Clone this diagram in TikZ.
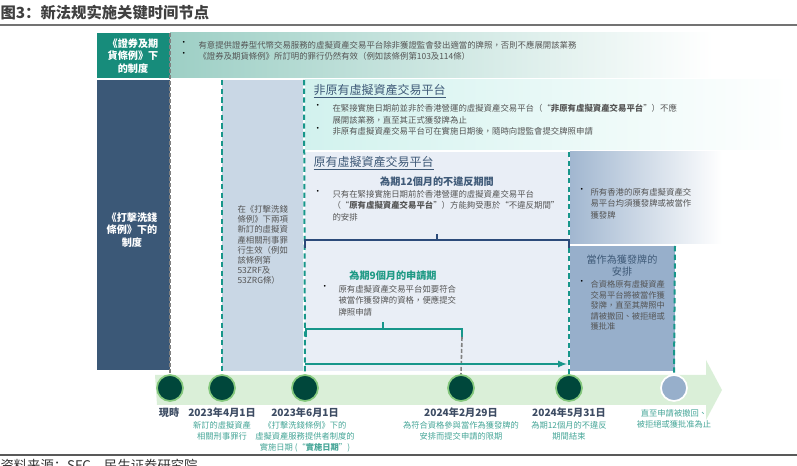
\documentclass[tikz,border=0pt]{standalone}
\usepackage{fontspec}
\newfontfamily\tcfont{Noto Sans CJK TC}
\newfontfamily\scfont{Noto Sans CJK SC}
\usetikzlibrary{arrows.meta}
\definecolor{tealbox}{HTML}{178C7B}
\definecolor{tealhell}{HTML}{9DCFC5}
\definecolor{navybox}{HTML}{3B5877}
\definecolor{blaugrau}{HTML}{C9D7E5}
\definecolor{nichtorig}{HTML}{D2F2EE}
\definecolor{origbg}{HTML}{E9EEF6}
\definecolor{rechtsbox}{HTML}{97AFCB}
\definecolor{txtgrau}{HTML}{555555}
\definecolor{kopfblau}{HTML}{3F5A78}
\definecolor{datblau}{HTML}{3D4C63}
\definecolor{notiztuerkis}{HTML}{45A597}
\definecolor{fristtuerkis}{HTML}{1F9A85}
\definecolor{bandgruen}{HTML}{DAEFD8}
\definecolor{kreisdunkel}{HTML}{00473B}
\definecolor{kreisring}{HTML}{86C97E}
\definecolor{strichtuerkis}{HTML}{17968A}
\definecolor{klammerblau}{HTML}{2B4A7A}
\tikzset{
  txt/.style={font=\tcfont\fontsize{6.3}{8.4}\selectfont, text=txtgrau,
    inner sep=0pt, anchor=north west, align=left},
  punkt/.style={txt, text=black},
  kopf/.style={font=\tcfont\fontsize{9}{11}\selectfont, text=kopfblau,
    inner sep=0pt, anchor=north west},
  frist/.style={font=\tcfont\bfseries\fontsize{7.6}{9}\selectfont, inner sep=0pt},
  boxtxt/.style={font=\tcfont\bfseries\fontsize{7.6}{9.6}\selectfont, text=white,
    inner sep=0pt, align=center},
  datum/.style={font=\tcfont\bfseries\fontsize{7.6}{9}\selectfont, text=datblau,
    inner sep=0pt},
  notiz/.style={font=\tcfont\fontsize{6.2}{8.25}\selectfont, text=notiztuerkis,
    inner sep=0pt, align=center, anchor=north},
  termin/.style={circle, fill=kreisdunkel, draw=kreisring, line width=1.3pt,
    minimum size=19.5pt, inner sep=0pt},
  grenze/.style={strichtuerkis, line width=1.5pt, dash pattern=on 4pt off 2.5pt},
  graustrich/.style={gray, line width=1.2pt, dash pattern=on 3pt off 1.5pt}
}
\begin{document}
\begin{tikzpicture}[x=0.75pt,y=-0.75pt,>=latex,thick]
\useasboundingbox (0,0) rectangle (797,466);
% Titel
\node[anchor=west, inner sep=0pt, text=black!75,
      font=\scfont\bfseries\fontsize{11.5}{12}\selectfont] (titel) at (0,13)
      {图3：新法规实施关键时间节点};
\draw[black!55, line width=1.5pt] (0,25) -- (797,25);
% Hintergrundflaechen
\fill[tealbox] (97,33) rectangle (170,78);
\shade[left color=tealhell, right color=white] (170,33) rectangle (713,78);
\fill[navybox] (97,80) rectangle (170,370);
\fill[blaugrau] (222,80) rectangle (303,371);
\shade[left color=nichtorig, right color=white] (305,80) rectangle (797,150);
\fill[origbg] (305,152) rectangle (569,371);
\shade[left color=rechtsbox!90, right color=white] (570,152) rectangle (722,244);
\fill[rechtsbox] (570,246) rectangle (675,371);
% Zeitstrahl
\fill[bandgruen] (155,375) -- (706,375) -- (706,360) -- (722,390)
     -- (706,420) -- (706,405) -- (157,405) -- cycle;
% Termine
\node[termin] (t0) at (170,388) {};
\node[termin] (t1) at (222,388) {};
\node[termin] (t2) at (305,388) {};
\node[termin] (t3) at (461,388) {};
\node[termin] (t4) at (569,388) {};
\node[termin, fill=rechtsbox, draw=white] (t5) at (674,388) {};
% Trennlinien
\draw[graustrich] (170,33) -- (t0.north);
\draw[grenze] (222,80) -- (t1.north);
\draw[grenze] (304,80) -- (t2.north);
\draw[grenze] (569,152) -- (t4.north);
\draw[grenze] (675,246) -- (t5.north);
% Klammer 12 Monate
\coordinate (k12a) at (305,248);
\coordinate (k12b) at (569,248);
\draw[klammerblau, line width=1.3pt] (k12a) |- (437,240) -| (k12b);
\draw[klammerblau, line width=1.3pt] (437,240) -- (437,234);
% Klammer 9 Monate
\coordinate (k9a) at (306,337);
\coordinate (k9b) at (462,337);
\draw[strichtuerkis, line width=1.3pt] (k9a) |- (383,329) -| (k9b);
\draw[strichtuerkis, line width=1.3pt] (383,329) -- (383,322);
\draw[graustrich] (k9b) -- (t3.north);
% Pfeil bis Ende der Frist
\coordinate (pa) at (305,364);
\coordinate (pb) at (567,364);
\draw[->, strichtuerkis, line width=1.3pt] (pa) -- (pb);
% Beschriftungen der Kaesten
\node[boxtxt] (sfo) at (133,56) {《證券及期\\貨條例》下\\的制度};
\node[punkt] (sfob) at (179,41) {•\\•};
\node[txt] (sfotext) at (198,41)
  {有意提供證券型代幣交易服務的虛擬資產交易平台除非獲證監會發出適當的牌照，否則不應展開該業務\\《證券及期貨條例》所訂明的罪行仍然有效（例如該條例第103及114條）};
\node[boxtxt] (amlo) at (132,230) {《打擊洗錢\\條例》下的\\制度};
\node[txt, font=\tcfont\fontsize{6.3}{7.6}\selectfont] (straf) at (237,205)
  {在《打擊洗錢\\條例》下兩項\\新訂的虛擬資\\產相關刑事罪\\行生效（例如\\該條例第\\53ZRF及\\53ZRG條）};
% nicht-originale Plattformen
\node[kopf] (nohead) at (313,84) {\underline{非原有虛擬資產交易平台}};
\node[punkt] (nob) at (313,104) {•\\\mbox{}\\•};
\node[txt] (notext) at (332,104)
  {在緊接實施日期前並非於香港營運的虛擬資產交易平台（“\textbf{非原有虛擬資產交易平台}”）不應\\展開該業務，直至其正式獲發牌為止\\非原有虛擬資產交易平台可在實施日期後，隨時向證監會提交牌照申請};
% originale Plattformen
\node[kopf] (orhead) at (313,156) {\underline{原有虛擬資產交易平台}};
\node[frist, text=kopfblau] (f12) at (437,182) {為期12個月的不違反期間};
\node[punkt] (orb) at (313,190) {•};
\node[txt] (ortext) at (332,190)
  {只有在緊接實施日期前於香港營運的虛擬資產交易平台\\（“\textbf{原有虛擬資產交易平台}”）方能夠受惠於“不違反期間”\\的安排};
\node[frist, text=fristtuerkis] (f9) at (393,276) {為期9個月的申請期};
\node[punkt] (anb) at (320,285) {•};
\node[txt] (antext) at (338,285)
  {原有虛擬資產交易平台如要符合\\被當作獲發牌的資格，便應提交\\牌照申請};
% rechte Spalte
\node[punkt] (alb) at (577,188) {•};
\node[txt] (alle) at (590,188) {所有香港的原有虛擬資產交\\易平台均須獲發牌或被當作\\獲發牌};
\node[font=\tcfont\fontsize{7.6}{9}\selectfont, text=kopfblau, inner sep=0pt,
      align=center] (als) at (622,266) {當作為獲發牌的\\安排};
\node[punkt] (alsb) at (577,280) {•};
\node[txt, font=\tcfont\fontsize{6.2}{7.9}\selectfont] (alstext) at (590,280)
  {合資格原有虛擬資產\\交易平台將被當作獲\\發牌，直至其牌照中\\請被撤回、被拒絕或\\獲批准};
% Daten
\node[datum] (d0) at (169,413) {現時};
\node[datum] (d1) at (222,413) {2023年4月1日};
\node[datum] (d2) at (305,413) {2023年6月1日};
\node[datum] (d3) at (461,413) {2024年2月29日};
\node[datum] (d4) at (569,413) {2024年5月31日};
\node[notiz] (n1) at (222,421) {新訂的虛擬資產\\相關刑事罪行};
\node[notiz] (n2) at (305,421) {《打擊洗錢條例》下的\\虛擬資產服務提供者制度的\\實施日期 (“\textbf{實施日期}”)};
\node[notiz] (n3) at (461,421) {為符合資格參與當作為獲發牌的\\安排而提交申請的限期};
\node[notiz] (n4) at (569,421) {為期12個月的不違反\\期間結束};
\node[notiz] (n5) at (674,409) {直至申請被撤回、\\被拒絕或獲批准為止};
% Fusszeile
\draw[black!65, line width=2pt] (0,455) -- (797,455);
\node[anchor=north west, inner sep=0pt, text=black!80,
      font=\scfont\fontsize{10}{12}\selectfont] (quelle) at (0,459)
      {资料来源：SFC，民生证券研究院};
\end{tikzpicture}
\end{document}
